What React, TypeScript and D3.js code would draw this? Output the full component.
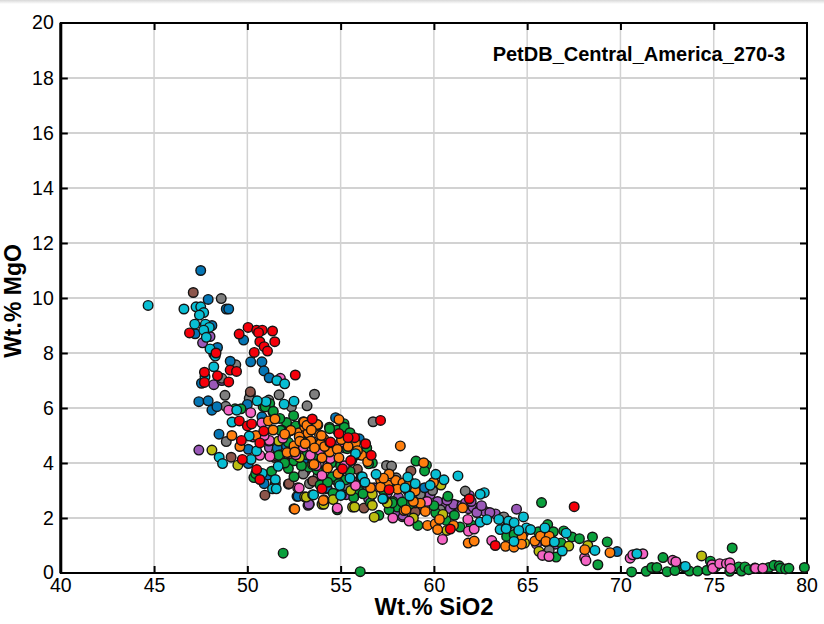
import { useEffect, useRef } from 'react'
import * as d3 from 'd3'

type Pt = [number, number]

const xTicks = [40, 45, 50, 55, 60, 65, 70, 75, 80]
const yTicks = [0, 2, 4, 6, 8, 10, 12, 14, 16, 18, 20]

// [SiO2, MgO], grouped by marker colour
const purplePoints: Pt[] = [
  [48.0, 8.6], [47.6, 8.37], [48.2, 7.96], [48.2, 6.85], [48.63, 7.0], [47.4, 4.47], [53.25, 2.46],
  [51.18, 4.56], [53.32, 2.5], [52.9, 4.4], [53.5, 4.1], [52.3, 4.5], [51.6, 4.7], [53.3, 2.5], [58.3, 2.05],
  [56.5, 2.7], [55.07, 2.9], [55.3, 2.85], [59.45, 3.07], [60.52, 2.52], [60.88, 2.34], [61.23, 2.46], [61.05, 2.5],
  [61.9, 2.82], [61.85, 2.34], [62.1, 2.4], [62.48, 2.34], [62.75, 2.24], [63.3, 2.15], [63.7, 2.03], [58.34, 2.1],
  [59.5, 2.64], [59.0, 2.7], [59.8, 2.85], [60.2, 2.6], [61.5, 2.45], [62.3, 2.2], [63.0, 2.2], [64.43, 2.32],
  [66.02, 1.13], [65.8, 1.2], [58.9, 2.4], [57.9, 2.2], [57.5, 2.9], [56.8, 3.1], [54.3, 3.9], [54.9, 3.6], [58.6, 3.0],
  [61.7, 2.55], [62.0, 2.6], [62.55, 2.45], [60.7, 2.65], [59.3, 2.35], [58.1, 2.75], [52.2, 4.0], [53.1, 3.7],
  [55.6, 3.35], [64.8, 1.45], [66.5, 1.05], [65.5, 1.05],
]

const grayPoints: Pt[] = [
  [48.6, 9.98], [49.38, 7.57], [48.63, 7.08], [48.8, 6.46], [48.84, 6.06], [50.16, 6.5], [51.15, 6.29], [51.7, 6.48],
  [53.6, 6.5], [53.2, 6.08], [52.36, 6.04], [48.87, 4.78], [53.0, 3.6], [53.33, 3.25], [56.74, 5.5], [57.46, 3.91],
  [57.73, 3.89], [57.98, 3.46], [55.27, 3.18], [61.68, 2.98], [59.93, 3.0], [59.27, 2.86], [60.34, 2.3], [63.75, 2.04],
  [66.18, 0.82], [50.1, 6.35], [51.55, 4.4], [53.8, 3.55], [56.0, 3.1],
]

const brownPoints: Pt[] = [
  [47.1, 10.2], [50.16, 6.59], [49.13, 4.21], [51.47, 4.2], [51.5, 3.25], [52.2, 3.23], [50.94, 2.83], [53.5, 3.35],
  [55.9, 3.77], [53.52, 3.34], [56.25, 2.36], [58.77, 3.71], [59.0, 2.22], [52.24, 3.25], [51.57, 4.25], [54.7, 3.4],
]

const bluePoints: Pt[] = [
  [47.5, 11.0], [47.9, 9.95], [48.87, 9.6], [49.0, 9.6], [48.1, 9.0], [47.2, 8.7], [49.8, 8.47], [48.4, 8.2],
  [49.08, 7.7], [50.18, 7.68], [50.78, 7.68], [50.89, 7.35], [51.17, 7.1], [47.54, 6.9], [47.4, 6.23], [47.9, 6.26],
  [48.1, 5.92], [48.37, 6.05], [50.0, 6.13], [48.48, 5.05], [50.78, 5.68], [50.05, 4.5], [51.6, 4.54], [52.1, 4.62],
  [50.05, 3.98], [53.0, 4.09], [52.66, 2.79], [51.1, 3.56], [50.9, 3.25], [54.29, 3.06], [54.73, 5.65], [56.0, 4.88],
  [52.72, 2.79], [54.25, 3.09], [69.82, 0.78], [59.0, 2.55], [64.0, 1.75], [55.2, 4.55], [56.4, 4.4], [53.6, 4.6],
  [59.5, 3.1], [64.5, 1.5],
]

const greenPoints: Pt[] = [
  [49.66, 5.97], [49.34, 5.97], [51.2, 6.16], [50.85, 6.05], [51.37, 5.86], [52.48, 5.72], [52.1, 5.47], [51.74, 5.62],
  [51.83, 5.2], [51.77, 4.3], [52.2, 3.8], [52.5, 4.08], [50.35, 3.47], [52.5, 3.5], [50.96, 6.04], [51.39, 5.88],
  [51.77, 5.19], [51.68, 4.28], [50.45, 3.61], [54.4, 5.3], [55.18, 5.43], [55.36, 4.52], [56.7, 4.0], [54.55, 3.5],
  [55.27, 3.39], [55.98, 2.98], [56.2, 2.88], [56.5, 3.97], [57.8, 2.6], [53.84, 3.73], [53.3, 3.85], [54.82, 2.3],
  [54.9, 3.25], [57.05, 2.1], [58.04, 2.4], [59.04, 4.07], [59.6, 3.92], [59.5, 3.71], [60.75, 2.79], [60.1, 2.19],
  [61.4, 1.67], [59.14, 1.73], [60.66, 1.91], [58.7, 2.5], [58.3, 2.58], [65.77, 2.56], [66.1, 1.76], [66.96, 1.53],
  [67.4, 1.31], [67.8, 1.25], [68.5, 1.31], [69.29, 1.13], [68.79, 0.3], [63.9, 1.33], [66.55, 0.58], [66.82, 1.09],
  [51.92, 0.72], [56.05, 0.05], [70.6, 0.04], [71.38, 0.06], [71.68, 0.2], [71.95, 0.2], [72.28, 0.56], [72.5, 0.05],
  [72.92, 0.09], [73.39, 0.22], [73.7, 0.07], [74.14, 0.07], [74.64, 0.1], [74.82, 0.43], [75.99, 0.91], [75.86, 0.06],
  [76.34, 0.22], [76.49, 0.07], [76.67, 0.22], [76.88, 0.12], [77.96, 0.2], [78.23, 0.28], [78.51, 0.26], [78.58, 0.17],
  [78.85, 0.15], [79.03, 0.17], [79.86, 0.2], [53.0, 4.9], [53.6, 4.3], [54.1, 4.5], [54.8, 5.2], [55.6, 4.1], [56.1, 3.5],
  [52.9, 3.9], [53.9, 3.2], [54.6, 2.9], [55.5, 3.7], [57.3, 3.0], [58.0, 3.1], [57.6, 2.3], [52.05, 5.0], [52.8, 4.6],
  [52.6, 5.35], [54.41, 5.25], [55.2, 5.3], [55.5, 5.1], [56.4, 4.55], [52.2, 4.75], [53.2, 4.3], [54.5, 4.0], [55.0, 3.9],
  [55.9, 4.3], [52.0, 4.0], [51.3, 3.7], [53.75, 3.75], [54.3, 3.3], [55.7, 2.75], [56.6, 2.55], [57.76, 2.55], [58.9, 3.05],
  [60.0, 2.45], [61.1, 2.1], [62.0, 1.75], [64.3, 1.4], [65.6, 1.5], [66.4, 1.5], [75.1, 0.22], [77.2, 0.18],
]

const olivePoints: Pt[] = [
  [48.1, 4.47], [49.49, 3.92], [51.68, 4.8], [53.07, 2.77], [55.55, 3.0], [55.64, 2.4], [56.7, 2.46], [56.8, 2.03],
  [56.7, 2.86], [53.16, 2.76], [54.0, 2.5], [54.6, 2.67], [54.1, 2.5], [55.75, 2.4], [60.38, 3.2], [58.9, 2.0],
  [60.7, 1.55], [60.48, 2.13], [64.86, 1.09], [65.63, 0.79], [67.23, 0.98], [68.25, 1.0], [74.35, 0.62], [52.8, 4.2],
  [57.5, 2.55],
]

const pinkPoints: Pt[] = [
  [51.77, 7.08], [49.0, 5.92], [50.18, 5.83], [50.78, 5.46], [51.15, 4.8], [53.0, 4.58], [50.67, 4.28], [52.7, 3.1],
  [53.88, 4.46], [53.38, 4.28], [54.45, 4.16], [55.8, 3.18], [54.82, 2.36], [57.8, 2.0], [58.67, 1.89], [60.46, 1.22],
  [61.85, 1.52], [63.1, 1.18], [65.82, 0.64], [66.17, 0.6], [59.63, 2.6], [52.78, 3.09], [61.82, 1.95], [62.16, 1.6],
  [51.18, 4.82], [51.21, 4.24], [68.08, 0.56], [68.15, 0.45], [70.52, 0.54], [70.66, 0.66], [71.2, 0.7], [72.8, 0.46],
  [72.97, 0.41], [74.91, 0.3], [74.95, 0.17], [75.32, 0.34], [75.68, 0.34], [75.86, 0.37], [75.9, 0.16], [77.24, 0.17],
  [77.63, 0.17], [53.7, 3.9], [52.3, 4.35], [50.3, 4.95], [55.2, 3.9], [52.6, 4.3], [54.0, 3.55], [51.9, 4.9], [55.0, 4.75],
  [50.9, 5.0],
]

const orangePoints: Pt[] = [
  [49.17, 5.0], [49.6, 4.6], [50.46, 5.0], [51.13, 5.53], [51.48, 5.6], [51.38, 5.2], [52.3, 5.17], [52.13, 4.38],
  [52.5, 4.62], [52.77, 5.1], [53.16, 5.1], [53.07, 5.32], [53.37, 4.8], [53.0, 5.5], [53.78, 5.38], [52.5, 2.34],
  [53.5, 3.94], [53.87, 4.7], [54.91, 5.58], [53.2, 5.43], [53.7, 5.4], [53.25, 5.09], [53.87, 5.02], [54.1, 4.88],
  [53.4, 4.8], [53.93, 4.7], [54.41, 4.4], [54.82, 4.5], [54.0, 4.19], [54.91, 4.19], [56.13, 4.28], [55.8, 4.73],
  [53.57, 3.95], [54.3, 3.82], [54.86, 3.61], [58.2, 4.62], [57.14, 3.39], [57.54, 3.2], [56.6, 3.1], [57.14, 3.12],
  [57.95, 3.37], [54.1, 2.66], [58.4, 2.27], [59.45, 4.01], [58.34, 3.27], [59.0, 2.98], [59.27, 2.54], [58.5, 2.3],
  [59.54, 2.24], [61.54, 2.37], [59.66, 1.73], [60.07, 1.79], [60.2, 1.58], [61.05, 1.73], [61.84, 1.09], [62.16, 1.16],
  [59.98, 3.3], [63.84, 0.97], [64.29, 0.94], [64.73, 1.33], [65.41, 1.16], [65.71, 1.34], [66.18, 1.34], [68.09, 0.85],
  [69.44, 0.74], [52.54, 2.32], [54.07, 2.64], [53.04, 5.49], [53.19, 5.37], [53.75, 5.4], [52.33, 5.19], [52.78, 4.95],
  [53.43, 5.2], [53.97, 5.0], [54.14, 4.6], [52.81, 4.79], [52.54, 4.4], [54.43, 4.75], [53.6, 4.55], [53.1, 4.7],
  [52.0, 5.05], [55.05, 4.85], [55.4, 4.6], [55.9, 4.45], [56.45, 4.05], [57.6, 3.6], [58.05, 3.05], [58.7, 3.3],
  [60.3, 1.95], [64.7, 1.05], [66.0, 1.15], [57.3, 3.45], [58.9, 2.6],
]

const cyanPoints: Pt[] = [
  [44.68, 9.73], [46.6, 9.6], [47.25, 9.68], [47.5, 9.68], [47.66, 9.47], [47.43, 9.38], [47.18, 9.05], [47.75, 9.05],
  [47.96, 8.93], [47.66, 8.83], [47.8, 8.57], [48.0, 8.15], [48.28, 7.89], [48.2, 7.5], [47.73, 7.14], [51.58, 7.0],
  [52.0, 6.88], [51.0, 6.23], [50.53, 6.26], [51.97, 6.14], [52.5, 6.25], [49.43, 5.92], [49.18, 5.49], [50.1, 4.98],
  [50.5, 4.44], [48.49, 4.21], [48.67, 3.98], [50.2, 4.13], [50.8, 3.62], [51.65, 3.88], [51.5, 3.4], [51.35, 3.06],
  [51.55, 3.06], [53.5, 2.85], [55.8, 4.34], [56.16, 3.5], [56.9, 3.59], [54.96, 3.18], [55.04, 2.84], [53.55, 2.84],
  [57.3, 2.7], [58.6, 3.49], [60.1, 3.59], [60.54, 3.39], [61.29, 3.53], [59.0, 3.25], [59.8, 3.19], [62.7, 2.92],
  [62.48, 2.86], [58.7, 2.8], [58.46, 3.1], [62.48, 1.85], [63.48, 1.95], [63.86, 1.65], [63.55, 1.58], [62.84, 1.94],
  [64.8, 2.04], [64.0, 1.89], [64.3, 1.83], [64.96, 1.64], [65.18, 1.58], [65.95, 1.64], [66.46, 1.13], [67.09, 1.45],
  [66.88, 0.8], [68.63, 0.82], [64.29, 1.15], [63.87, 1.61], [73.48, 0.24], [70.88, 0.7], [57.26, 2.7], [55.0, 2.82],
  [56.3, 3.3], [55.5, 3.45], [64.55, 1.55],
]

const redPoints: Pt[] = [
  [46.9, 8.73], [50.04, 8.93], [50.5, 8.83], [50.8, 8.83], [50.6, 8.74], [51.35, 8.8], [49.56, 8.69], [51.47, 8.41],
  [50.67, 8.41], [50.9, 8.23], [51.08, 8.07], [50.37, 8.02], [48.32, 8.0], [47.7, 7.3], [49.08, 7.38], [49.42, 7.33],
  [48.4, 7.17], [52.57, 7.2], [47.7, 6.93], [49.0, 6.95], [49.57, 5.53], [50.0, 5.35], [50.23, 5.42], [50.88, 5.16],
  [49.68, 4.82], [50.67, 4.73], [49.73, 4.13], [50.5, 3.76], [50.67, 3.4], [53.48, 5.6], [57.14, 5.55], [54.91, 5.07],
  [55.75, 4.92], [56.34, 4.7], [56.64, 4.28], [55.54, 4.09], [54.46, 4.76], [55.1, 3.79], [55.4, 4.92], [54.0, 3.06],
  [57.6, 3.03], [61.9, 2.7], [63.29, 1.0], [60.88, 1.6], [67.52, 2.41],
]

// draw order, later groups sit on top
const seriesNames = ['purple', 'gray', 'brown', 'blue', 'green', 'olive', 'pink', 'orange', 'cyan', 'red']
const seriesColors = ['#9a58b8', '#7f7f7f', '#8c564b', '#0576b5', '#0aa03c', '#bcbd10', '#f464c4', '#ff7f0e', '#08bed3', '#f5000a']
const seriesPoints = [purplePoints, grayPoints, brownPoints, bluePoints, greenPoints, olivePoints, pinkPoints, orangePoints, cyanPoints, redPoints]

const width = 824
const height = 624
const margin = { top: 23, right: 17, bottom: 51, left: 60.8 }

export default function App() {
  const svgRef = useRef<SVGSVGElement>(null)

  useEffect(() => {
    if (!svgRef.current) return

    const svg = d3.select(svgRef.current)
    svg.selectAll('*').remove()

    const xScale = d3.scaleLinear().domain([40, 80]).range([margin.left, width - margin.right])
    const yScale = d3.scaleLinear().domain([0, 20]).range([height - margin.bottom, margin.top])

    // Browser shadow along the top of the screenshot
    const defs = svg.append('defs')
    const shade = defs.append('linearGradient')
      .attr('id', 'top-shade')
      .attr('x1', '0%').attr('y1', '0%')
      .attr('x2', '0%').attr('y2', '100%')
    shade.append('stop').attr('offset', '0%').attr('stop-color', '#d8d8d8')
    shade.append('stop').attr('offset', '100%').attr('stop-color', '#ffffff')
    svg.append('rect')
      .attr('width', width)
      .attr('height', 4)
      .attr('fill', 'url(#top-shade)')

    // Grid
    svg.append('g')
      .selectAll('line')
      .data(xTicks.slice(1, -1))
      .enter().append('line')
      .attr('x1', d => xScale(d))
      .attr('x2', d => xScale(d))
      .attr('y1', margin.top)
      .attr('y2', height - margin.bottom)
      .attr('stroke', '#d2d2d2')
      .attr('stroke-width', 1.5)

    svg.append('g')
      .selectAll('line')
      .data(yTicks.slice(1, -1))
      .enter().append('line')
      .attr('x1', margin.left)
      .attr('x2', width - margin.right)
      .attr('y1', d => yScale(d))
      .attr('y2', d => yScale(d))
      .attr('stroke', '#d2d2d2')
      .attr('stroke-width', 2)

    // Axes: labels on the left and bottom, inner ticks on all four sides
    const axisFont = '"Liberation Sans", Arial, sans-serif'
    const styleAxis = (g: d3.Selection<SVGGElement, unknown, null, undefined>, labels: boolean) => {
      g.selectAll('.domain').remove()
      g.selectAll('line').attr('stroke', '#000').attr('stroke-width', 2)
      g.selectAll('text')
        .attr('fill', '#000')
        .style('font-family', axisFont)
        .style('font-size', '19.5px')
        .style('display', labels ? null : 'none')
    }

    svg.append('g')
      .attr('transform', `translate(0,${height - margin.bottom})`)
      .call(d3.axisBottom(xScale).tickValues(xTicks.slice(1, -1)).tickSize(-7).tickPadding(5).tickSizeOuter(0))
      .call(g => styleAxis(g, true))

    svg.append('g')
      .attr('transform', `translate(0,${margin.top})`)
      .call(d3.axisTop(xScale).tickValues(xTicks.slice(1, -1)).tickSize(-7).tickSizeOuter(0))
      .call(g => styleAxis(g, false))

    svg.append('g')
      .attr('transform', `translate(${margin.left},0)`)
      .call(d3.axisLeft(yScale).tickValues(yTicks.slice(1, -1)).tickSize(-7).tickPadding(7).tickSizeOuter(0))
      .call(g => styleAxis(g, true))

    svg.append('g')
      .attr('transform', `translate(${width - margin.right},0)`)
      .call(d3.axisRight(yScale).tickValues(yTicks.slice(1, -1)).tickSize(-7).tickSizeOuter(0))
      .call(g => styleAxis(g, false))

    // Corner labels, the axis skips them so they don't draw ticks
    const cornerLabels = svg.append('g')
      .attr('fill', '#000')
      .style('font-family', axisFont)
      .style('font-size', '19.5px')
    cornerLabels.append('text')
      .attr('x', xScale(40))
      .attr('y', height - margin.bottom + 5)
      .attr('dy', '0.71em')
      .attr('text-anchor', 'middle')
      .text('40')
    cornerLabels.append('text')
      .attr('x', xScale(80))
      .attr('y', height - margin.bottom + 5)
      .attr('dy', '0.71em')
      .attr('text-anchor', 'middle')
      .text('80')
    cornerLabels.append('text')
      .attr('x', margin.left - 7)
      .attr('y', yScale(0))
      .attr('dy', '0.32em')
      .attr('text-anchor', 'end')
      .text('0')
    cornerLabels.append('text')
      .attr('x', margin.left - 7)
      .attr('y', yScale(20))
      .attr('dy', '0.32em')
      .attr('text-anchor', 'end')
      .text('20')

    // Frame
    svg.append('rect')
      .attr('x', margin.left)
      .attr('y', margin.top)
      .attr('width', width - margin.left - margin.right)
      .attr('height', height - margin.top - margin.bottom)
      .attr('fill', 'none')
      .attr('stroke', '#000')
      .attr('stroke-width', 2)
    svg.append('line')
      .attr('x1', margin.left)
      .attr('x2', margin.left)
      .attr('y1', margin.top)
      .attr('y2', height - margin.bottom)
      .attr('stroke', '#000')
      .attr('stroke-width', 3)

    // Points
    seriesNames.forEach((name, i) => {
      svg.append('g')
        .attr('class', `series-${name}`)
        .selectAll('circle')
        .data(seriesPoints[i])
        .enter().append('circle')
        .attr('cx', d => xScale(d[0]))
        .attr('cy', d => yScale(d[1]))
        .attr('r', 4.8)
        .attr('fill', seriesColors[i])
        .attr('stroke', '#141414')
        .attr('stroke-width', 1.4)
    })

    // Titles
    svg.append('text')
      .attr('x', 434)
      .attr('y', 615)
      .attr('text-anchor', 'middle')
      .attr('fill', '#000')
      .style('font-family', axisFont)
      .style('font-weight', 'bold')
      .style('font-size', '23.8px')
      .text('Wt.% SiO2')

    svg.append('text')
      .attr('transform', `translate(21,301) rotate(-90)`)
      .attr('text-anchor', 'middle')
      .attr('fill', '#000')
      .style('font-family', axisFont)
      .style('font-weight', 'bold')
      .style('font-size', '23px')
      .text('Wt.% MgO')

    svg.append('text')
      .attr('x', 785)
      .attr('y', 61)
      .attr('text-anchor', 'end')
      .attr('fill', '#000')
      .style('font-family', axisFont)
      .style('font-weight', 'bold')
      .style('font-size', '20px')
      .text('PetDB_Central_America_270-3')
  }, [])

  return (
    <svg
      ref={svgRef}
      width={width}
      height={height}
      style={{ position: 'absolute', left: 0, top: 0, background: '#fff' }}
    />
  )
}
